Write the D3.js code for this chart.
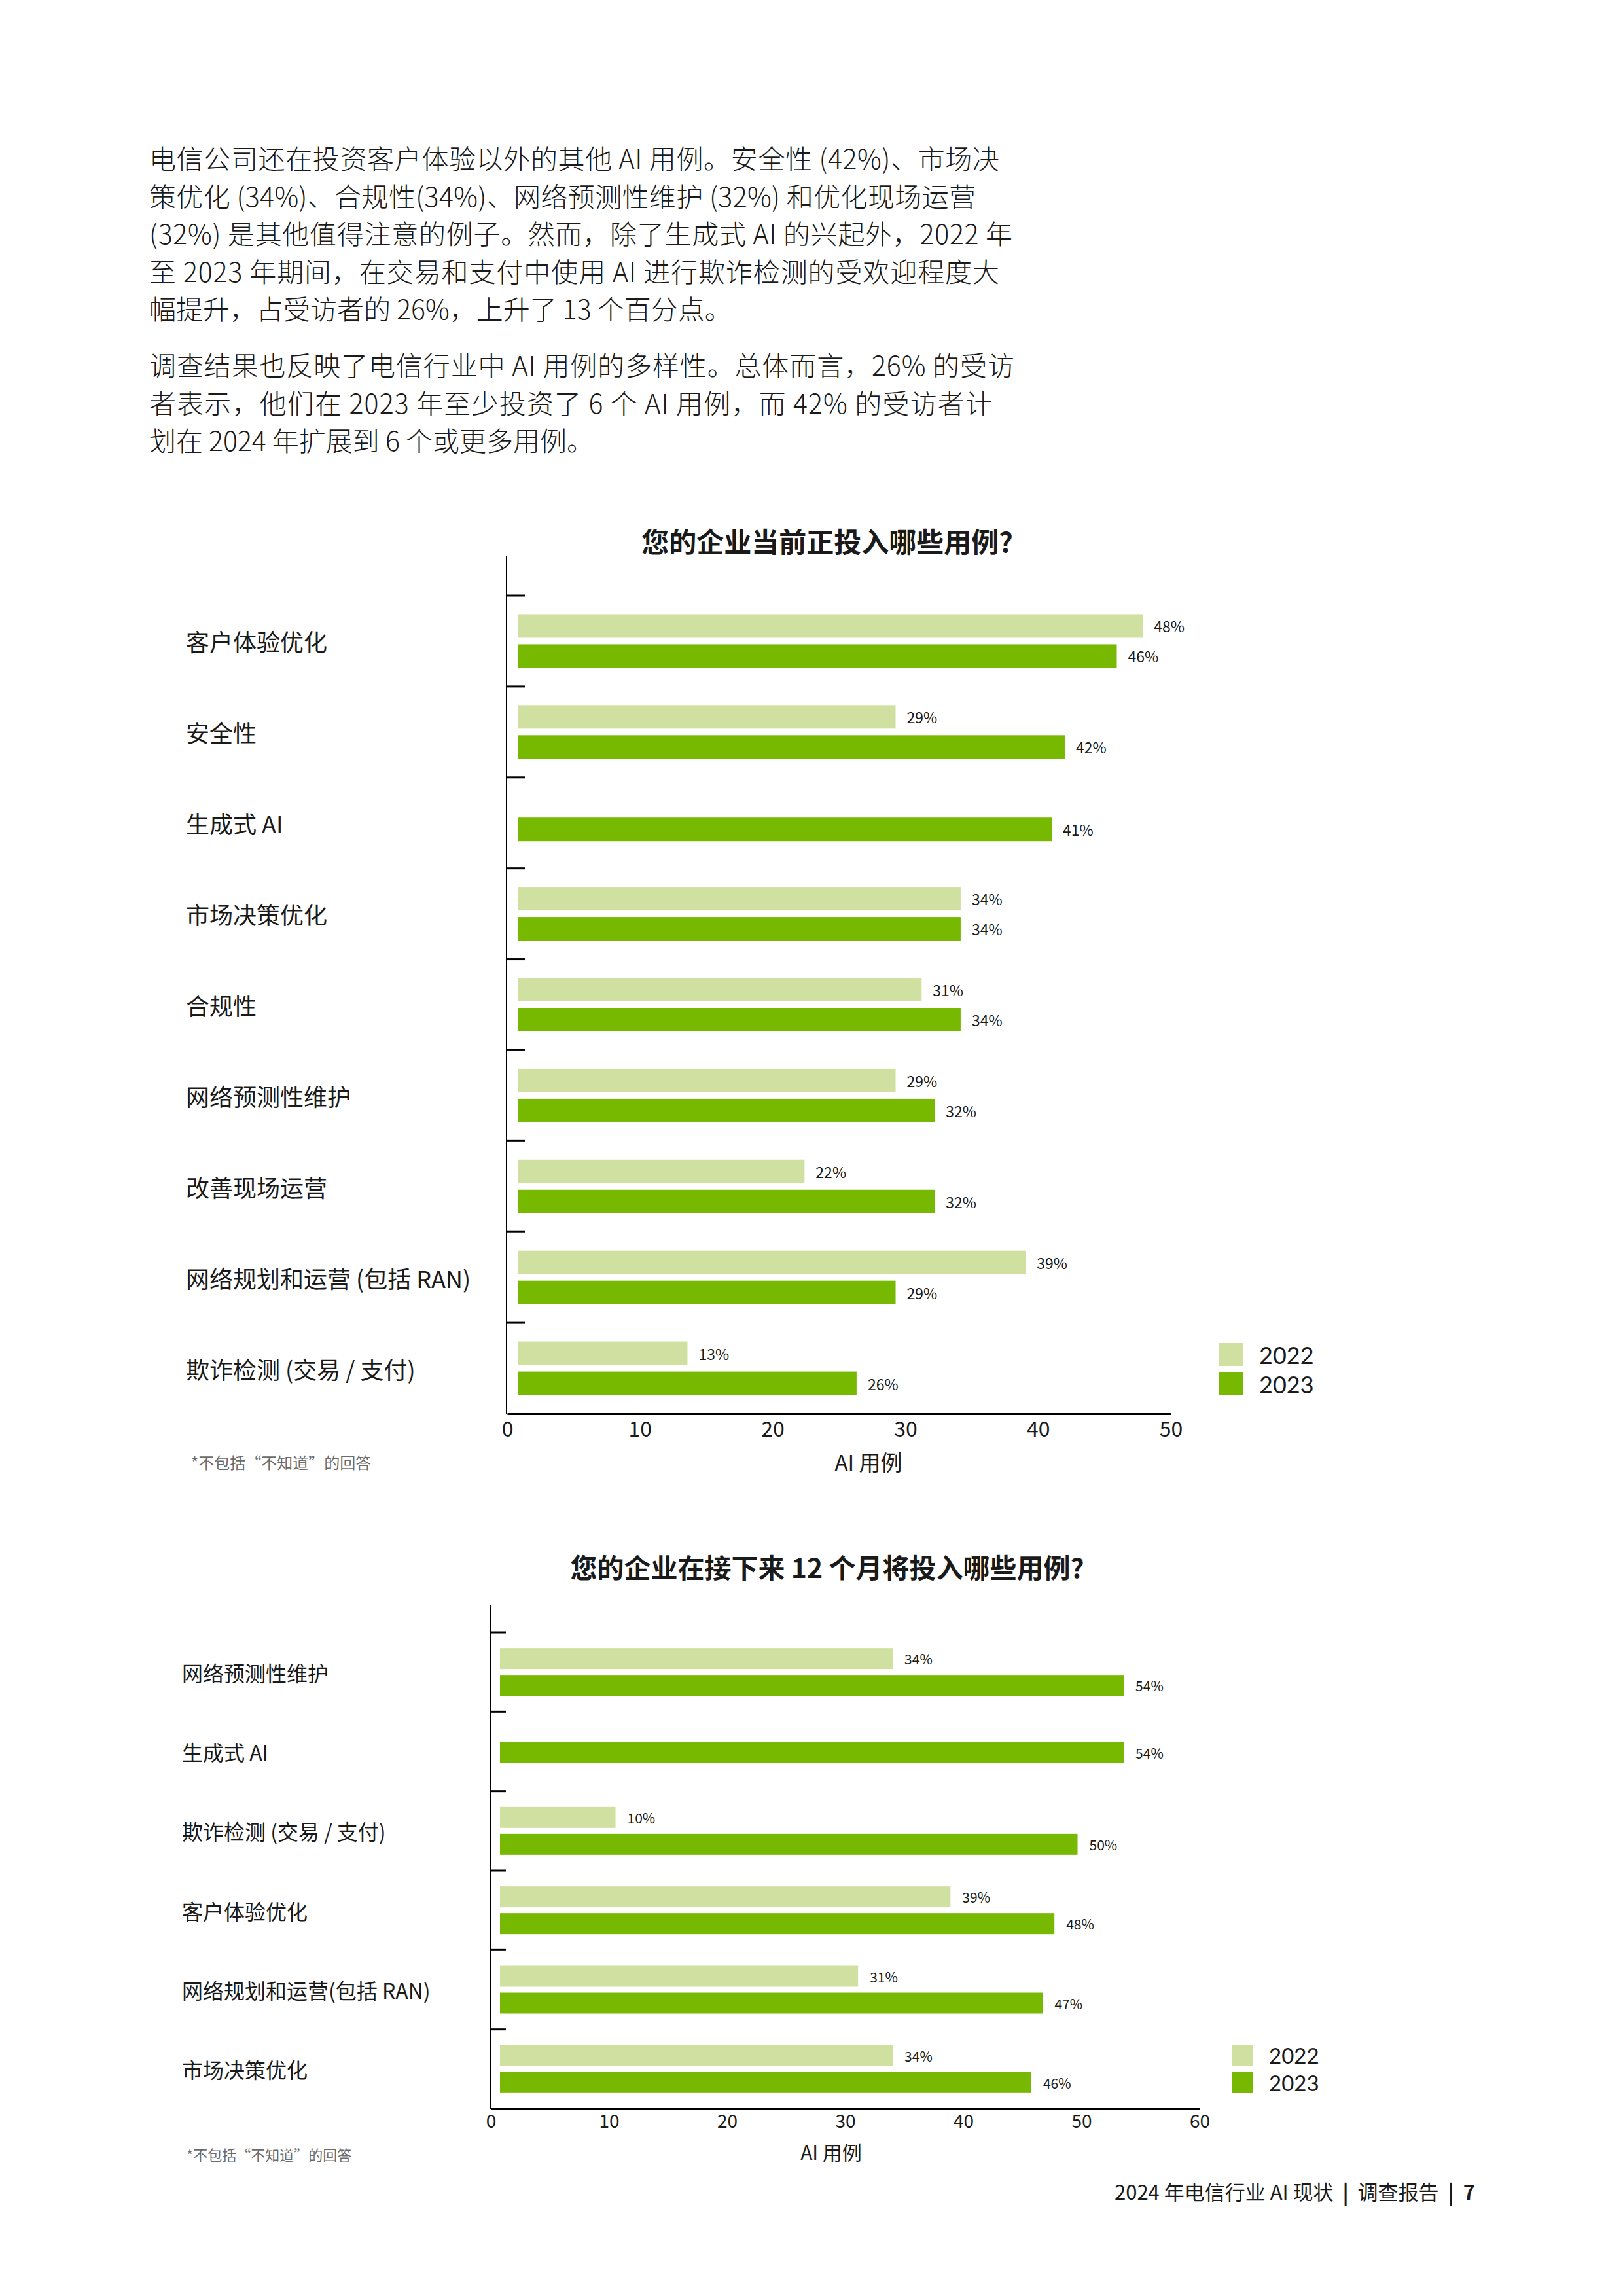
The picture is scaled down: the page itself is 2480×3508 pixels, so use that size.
<!DOCTYPE html>
<html>
<head>
<meta charset="utf-8">
<script src="https://cdn.jsdelivr.net/npm/d3@7"></script>
<style>
  html, body { margin: 0; padding: 0; background: #ffffff; }
  svg { display: block; }
  text { font-family: "Noto Sans CJK SC", "Noto Sans", sans-serif; fill: #1a1a1a; white-space: pre; }
</style>
</head>
<body>
<svg id="page" width="2480" height="3508"></svg>
<script>
// ---------------- DATA ----------------
const paragraphLines = [
  "电信公司还在投资客户体验以外的其他 AI 用例。安全性 (42%)、市场决",
  "策优化 (34%)、合规性(34%)、网络预测性维护 (32%) 和优化现场运营",
  "(32%) 是其他值得注意的例子。然而，除了生成式 AI 的兴起外，2022 年",
  "至 2023 年期间，在交易和支付中使用 AI 进行欺诈检测的受欢迎程度大",
  "幅提升，占受访者的 26%，上升了 13 个百分点。"
];
const paragraphLines2 = [
  "调查结果也反映了电信行业中 AI 用例的多样性。总体而言，26% 的受访",
  "者表示，他们在 2023 年至少投资了 6 个 AI 用例，而 42% 的受访者计",
  "划在 2024 年扩展到 6 个或更多用例。"
];

const chart1Title = "您的企业当前正投入哪些用例?";
const chart1Categories = [
  "客户体验优化", "安全性", "生成式 AI", "市场决策优化", "合规性",
  "网络预测性维护", "改善现场运营", "网络规划和运营 (包括 RAN)", "欺诈检测 (交易 / 支付)"
];
const chart1Values2022 = [48, 29, null, 34, 31, 29, 22, 39, 13];
const chart1Values2023 = [46, 42, 41, 34, 34, 32, 32, 29, 26];
const chart1Ticks = [0, 10, 20, 30, 40, 50];

const chart2Title = "您的企业在接下来 12 个月将投入哪些用例?";
const chart2Categories = [
  "网络预测性维护", "生成式 AI", "欺诈检测 (交易 / 支付)", "客户体验优化",
  "网络规划和运营(包括 RAN)", "市场决策优化"
];
const chart2Values2022 = [34, null, 10, 39, 31, 34];
const chart2Values2023 = [54, 54, 50, 48, 47, 46];
const chart2Ticks = [0, 10, 20, 30, 40, 50, 60];

const seriesNames = ["2022", "2023"];
const axisTitle = "AI 用例";
const footnote = "*不包括“不知道”的回答";
const footerParts = ["2024 年电信行业 AI 现状", "调查报告", "7"];

// ---------------- STYLE ----------------
const COLOR_2022 = "#cfe0a0";
const COLOR_2023 = "#76b900";

const svg = d3.select("#page");

// ---------------- PARAGRAPHS ----------------
const justifiedWidths1 = [1299, 1263, 1319, 1299, null];
const justifiedWidths2 = [1322, 1288, null];
function drawParagraph(lines, widths, y0) {
  lines.forEach((line, i) => {
    const t = svg.append("text")
      .attr("x", 228)
      .attr("y", y0 + i * 57.5)
      .attr("dominant-baseline", "central")
      .attr("font-size", 41)
      .attr("font-weight", 300)
      .text(line);
    if (widths[i]) t.attr("textLength", widths[i]).attr("lengthAdjust", "spacing");
  });
}
drawParagraph(paragraphLines, justifiedWidths1, 240);
drawParagraph(paragraphLines2, justifiedWidths2, 556);

// ---------------- CHART FUNCTION ----------------
function drawChart(cfg) {
  const g = svg.append("g");
  const y = d3.scaleBand().domain(cfg.categories).range(cfg.bandRange).padding(0);
  const xAxisScale = d3.scaleLinear().domain(cfg.domain).range(cfg.axisRange);
  const xBar = d3.scaleLinear().domain(cfg.domain).range(cfg.barRange);

  // title
  g.append("text")
    .attr("x", cfg.titleX).attr("y", cfg.titleY)
    .attr("text-anchor", "middle").attr("dominant-baseline", "central")
    .attr("font-size", cfg.titleSize).attr("font-weight", 700)
    .text(cfg.title);

  // vertical axis line
  g.append("line")
    .attr("x1", cfg.axisX).attr("x2", cfg.axisX)
    .attr("y1", cfg.axisTop).attr("y2", cfg.bandRange[1])
    .attr("stroke", "#000").attr("stroke-width", 2);

  // category tick marks at band tops
  g.selectAll(".ytick").data(cfg.categories).join("line")
    .attr("x1", cfg.axisX).attr("x2", cfg.axisX + cfg.tickLen)
    .attr("y1", d => y(d)).attr("y2", d => y(d))
    .attr("stroke", "#000").attr("stroke-width", 3);

  // category labels
  g.selectAll(".ylabel").data(cfg.categories).join("text")
    .attr("x", cfg.labelX)
    .attr("y", d => y(d) + y.bandwidth() / 2)
    .attr("dominant-baseline", "central")
    .attr("font-size", cfg.labelSize)
    .text(d => d);

  // bars
  const rows = cfg.categories.map((c, i) => ({ cat: c, v22: cfg.v2022[i], v23: cfg.v2023[i] }));
  const bh = cfg.barH, gap = cfg.barGap;
  const barsData = [];
  rows.forEach(r => {
    const cy = y(r.cat) + y.bandwidth() / 2;
    const hasBoth = r.v22 != null && r.v23 != null;
    if (r.v22 != null) barsData.push({ v: r.v22, color: COLOR_2022, top: hasBoth ? cy - gap / 2 - bh : cy - bh / 2 + cfg.singleShift });
    if (r.v23 != null) barsData.push({ v: r.v23, color: COLOR_2023, top: hasBoth ? cy + gap / 2 : cy - bh / 2 + cfg.singleShift });
  });
  g.selectAll(".bar").data(barsData).join("rect")
    .attr("x", xBar(0))
    .attr("y", d => d.top)
    .attr("width", d => xBar(d.v) - xBar(0))
    .attr("height", bh)
    .attr("fill", d => d.color);

  g.selectAll(".vlabel").data(barsData).join("text")
    .attr("x", d => xBar(d.v) + cfg.valueOffset)
    .attr("y", d => d.top + bh / 2)
    .attr("dominant-baseline", "central")
    .attr("font-size", cfg.valueSize)
    .text(d => d.v + "%");

  // x axis
  const xAxis = d3.axisBottom(xAxisScale).tickValues(cfg.ticks).tickSize(0).tickPadding(cfg.tickPad)
    .tickFormat(d3.format("d"));
  const ax = g.append("g").attr("transform", `translate(0,${cfg.bandRange[1]})`).call(xAxis);
  ax.select(".domain").attr("stroke", "#000").attr("stroke-width", 3);
  ax.selectAll(".tick text")
    .attr("font-size", cfg.tickSize)
    .attr("fill", "#1a1a1a")
    .attr("font-family", "\"Noto Sans CJK SC\", sans-serif");

  // axis title
  g.append("text")
    .attr("x", cfg.axisTitleX).attr("y", cfg.axisTitleY)
    .attr("text-anchor", "middle").attr("dominant-baseline", "central")
    .attr("font-size", cfg.axisTitleSize)
    .text(axisTitle);

  // footnote
  g.append("text")
    .attr("x", cfg.footX).attr("y", cfg.footY)
    .attr("dominant-baseline", "central")
    .attr("font-size", cfg.footSize)
    .style("fill", "#6b6b6b")
    .text(footnote);

  // legend
  const leg = g.selectAll(".leg").data(seriesNames).join("g")
    .attr("transform", (d, i) => `translate(${cfg.legX},${cfg.legY + i * cfg.legStep})`);
  leg.append("rect").attr("width", cfg.legW).attr("height", cfg.legH)
    .attr("fill", (d, i) => i === 0 ? COLOR_2022 : COLOR_2023);
  leg.append("text")
    .attr("x", cfg.legTextDx).attr("y", cfg.legH / 2)
    .attr("dominant-baseline", "central")
    .attr("font-size", cfg.legSize)
    .style("font-family", "Lato, \"Noto Sans\", sans-serif")
    .text(d => d);
}

drawChart({
  title: chart1Title, titleX: 1264, titleY: 825, titleSize: 42,
  categories: chart1Categories, v2022: chart1Values2022, v2023: chart1Values2023,
  ticks: chart1Ticks, domain: [0, 50],
  bandRange: [910, 2160], axisRange: [775, 1789], barRange: [792, 1786],
  axisX: 774, axisTop: 850, tickLen: 28,
  labelX: 284, labelSize: 36,
  barH: 36, barGap: 10, singleShift: 10, valueOffset: 17, valueSize: 23,
  tickSize: 32, tickPad: 12,
  axisTitleX: 1327, axisTitleY: 2233, axisTitleSize: 33,
  footX: 292, footY: 2233, footSize: 24,
  legX: 1863, legY: 2052, legStep: 45, legW: 36, legH: 35, legTextDx: 61, legSize: 36
});

drawChart({
  title: chart2Title, titleX: 1264, titleY: 2393, titleSize: 41,
  categories: chart2Categories, v2022: chart2Values2022, v2023: chart2Values2023,
  ticks: chart2Ticks, domain: [0, 60],
  bandRange: [2494, 3222], axisRange: [750, 1833], barRange: [764, 1823],
  axisX: 749, axisTop: 2453, tickLen: 24,
  labelX: 278, labelSize: 32,
  barH: 32, barGap: 9, singleShift: 2, valueOffset: 18, valueSize: 21,
  tickSize: 28, tickPad: 9,
  axisTitleX: 1270, axisTitleY: 3287, axisTitleSize: 30,
  footX: 285, footY: 3291, footSize: 22,
  legX: 1883, legY: 3124, legStep: 42, legW: 32, legH: 32, legTextDx: 56, legSize: 33
});

// ---------------- FOOTER ----------------
const footer = svg.append("text")
  .attr("x", 2254).attr("y", 3347)
  .attr("text-anchor", "end").attr("dominant-baseline", "central")
  .attr("font-size", 31);
footer.append("tspan").text(footerParts[0] + "  ");
footer.append("tspan").attr("font-weight", 700).text("|");
footer.append("tspan").text("  " + footerParts[1] + "  ");
footer.append("tspan").attr("font-weight", 700).text("|");
footer.append("tspan").attr("font-weight", 700).text("  " + footerParts[2]);
</script>
</body>
</html>
